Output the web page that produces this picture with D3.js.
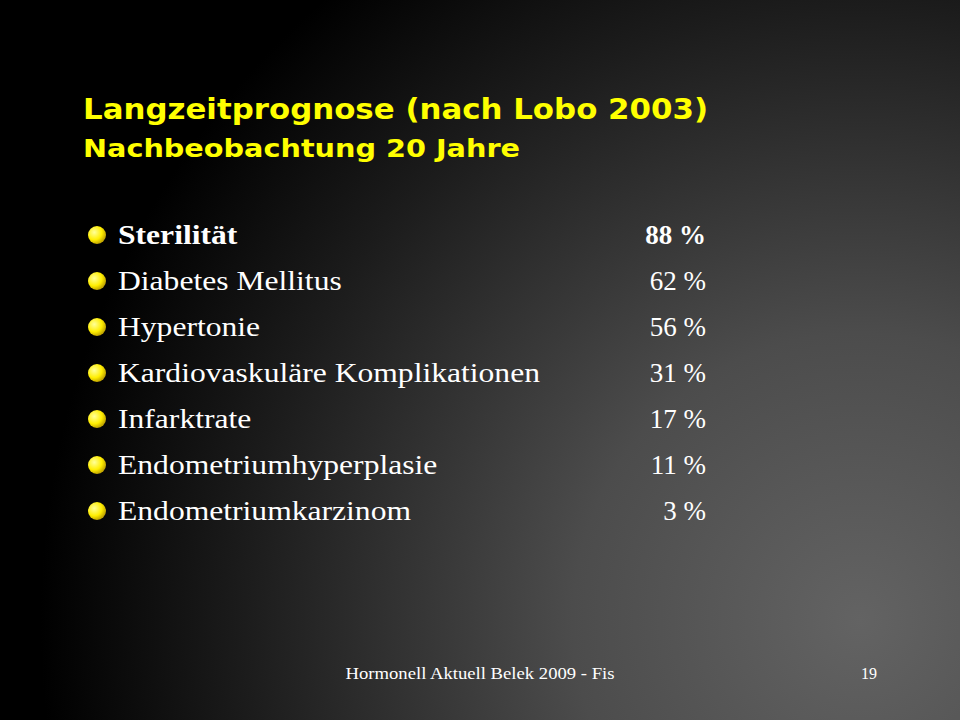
<!DOCTYPE html>
<html><head><meta charset="utf-8">
<script src="https://cdn.jsdelivr.net/npm/d3@7"></script>
<style>body{margin:0;background:#000}</style>
</head><body>
<script>
// slide content
var labels = ['Sterilität', 'Diabetes Mellitus', 'Hypertonie', 'Kardiovaskuläre Komplikationen',
  'Infarktrate', 'Endometriumhyperplasie', 'Endometriumkarzinom'];
var values = [88, 62, 56, 31, 17, 11, 3];
var boldRows = ['Sterilität'];

var W = 960, H = 720;
var svg = d3.select('body').append('svg').attr('width', W).attr('height', H);
var defs = svg.append('defs');

var bg = defs.append('radialGradient').attr('id', 'bg')
  .attr('gradientUnits', 'userSpaceOnUse')
  .attr('cx', 860).attr('cy', 620).attr('r', 820);
bg.append('stop').attr('offset', '0%').attr('stop-color', '#636363');
bg.append('stop').attr('offset', '35%').attr('stop-color', '#4c4c4c');
bg.append('stop').attr('offset', '75%').attr('stop-color', '#1c1c1c');
bg.append('stop').attr('offset', '100%').attr('stop-color', '#000');
svg.append('rect').attr('width', W).attr('height', H).attr('fill', 'url(#bg)');

var ball = defs.append('radialGradient').attr('id', 'ball')
  .attr('cx', '35%').attr('cy', '35%').attr('r', '70%');
ball.append('stop').attr('offset', '0%').attr('stop-color', '#ffff99');
ball.append('stop').attr('offset', '60%').attr('stop-color', '#ffee00');
ball.append('stop').attr('offset', '100%').attr('stop-color', '#b89a00');

// stretch text horizontally by a factor (slide fonts are wider than the installed ones)
function stretch(sel, k) {
  sel.each(function() {
    var len = this.getComputedTextLength();
    d3.select(this).attr('textLength', len * k).attr('lengthAdjust', 'spacingAndGlyphs');
  });
}

svg.append('text').attr('x', 83).attr('y', 119)
  .attr('font-family', 'DejaVu Sans').attr('font-weight', 'bold').attr('font-size', 29)
  .attr('fill', '#ffff00').text('Langzeitprognose (nach Lobo 2003)')
  .attr('textLength', 625).attr('lengthAdjust', 'spacingAndGlyphs');
svg.append('text').attr('x', 83).attr('y', 157)
  .attr('font-family', 'DejaVu Sans').attr('font-weight', 'bold').attr('font-size', 24)
  .attr('fill', '#ffff00').text('Nachbeobachtung 20 Jahre')
  .attr('textLength', 437).attr('lengthAdjust', 'spacingAndGlyphs');

var y = d3.scaleBand().domain(labels).range([212, 534]);

var rows = svg.selectAll('g.row').data(labels).enter().append('g')
  .attr('transform', function(d) { return 'translate(0,' + (y(d) + y.bandwidth() / 2) + ')'; });

rows.append('circle').attr('cx', 97).attr('cy', 0).attr('r', 9).attr('fill', 'url(#ball)');

rows.append('text').attr('x', 118).attr('y', 9)
  .attr('font-family', 'Liberation Serif').attr('font-size', 27).attr('fill', '#fff')
  .attr('font-weight', function(d) { return boldRows.indexOf(d) >= 0 ? 'bold' : 'normal'; })
  .text(function(d) { return d; })
  .call(stretch, 1.17);

rows.append('text').attr('x', 706).attr('y', 9).attr('text-anchor', 'end')
  .attr('font-family', 'Liberation Serif').attr('font-size', 27).attr('fill', '#fff')
  .attr('font-weight', function(d) { return boldRows.indexOf(d) >= 0 ? 'bold' : 'normal'; })
  .text(function(d, i) { return values[i] + ' %'; });

svg.append('text').attr('x', 480).attr('y', 679).attr('text-anchor', 'middle')
  .attr('font-family', 'Liberation Serif').attr('font-size', 16).attr('fill', '#fff')
  .text('Hormonell Aktuell Belek 2009 - Fis')
  .attr('textLength', 269).attr('lengthAdjust', 'spacingAndGlyphs');
svg.append('text').attr('x', 877).attr('y', 679).attr('text-anchor', 'end')
  .attr('font-family', 'Liberation Serif').attr('font-size', 16).attr('fill', '#fff')
  .text('19');
</script>
</body></html>
